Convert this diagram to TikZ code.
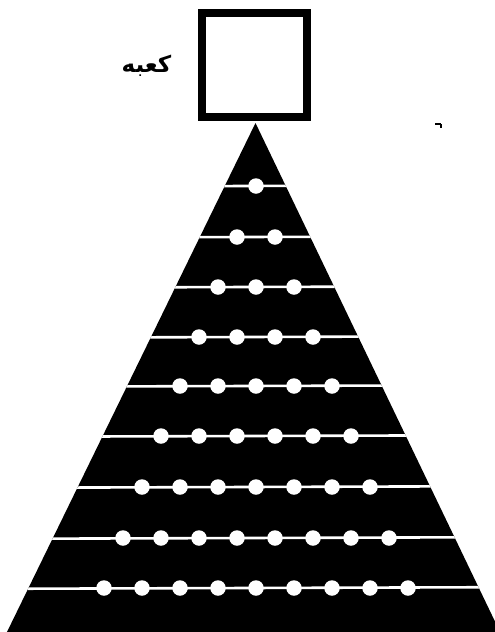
\documentclass[tikz,border=0pt]{standalone}
\usepackage{fontspec}
\newfontfamily\arabicfont[Script=Arabic]{DejaVu Sans Bold}
\TeXXeTstate=1
\tikzset{
  cube/.style={draw=black, line width=8pt, fill=white},
  pyramid/.style={fill=black},
  rowline/.style={draw=white, line width=2.6pt},
  dotnode/.style={circle, fill=white, inner sep=0pt, minimum size=15.5pt},
  lbl/.style={font=\arabicfont\fontsize{23}{26}\selectfont, inner sep=0pt}
}
\begin{document}
\begin{tikzpicture}[x=1pt,y=-1pt]
\useasboundingbox (0,0) rectangle (495,632);
% cube
\draw[cube] (202,13) rectangle (307,117);
\node[lbl] (kaaba) at (146.5,66) {\beginR كعبه\endR};
% pyramid
\coordinate (apex) at (255.5,123);
\coordinate (bl) at (6,634);
\coordinate (br) at (501,634);
\fill[pyramid] (apex) -- (bl) -- (br) -- cycle;
\begin{scope}
  \clip (apex) -- (bl) -- (br) -- cycle;
  \foreach \k/\y in {1/186,2/237,3/287,4/337,5/386,6/436,7/487,8/538,9/588}{
    \coordinate (L\k) at (0,\y+0.8);
    \coordinate (R\k) at (495,\y-0.8);
    \draw[rowline] (L\k) -- (R\k);
  }
\end{scope}
\foreach \k/\y in {1/186,2/237,3/287,4/337,5/386,6/436,7/487,8/538,9/588}{
  \foreach \j in {1,...,\k}{
    \node[dotnode] (d\k-\j) at ({256+38*(\j-(\k+1)/2)},\y) {};
  }
}
% small stray mark
\coordinate (m1) at (435,124);
\coordinate (m2) at (441,124);
\coordinate (m3) at (441,128);
\draw[line width=1.3pt] (m1) -- (m2);
\draw[line width=1.5pt] (m2) -- (m3);
\end{tikzpicture}
\end{document}
